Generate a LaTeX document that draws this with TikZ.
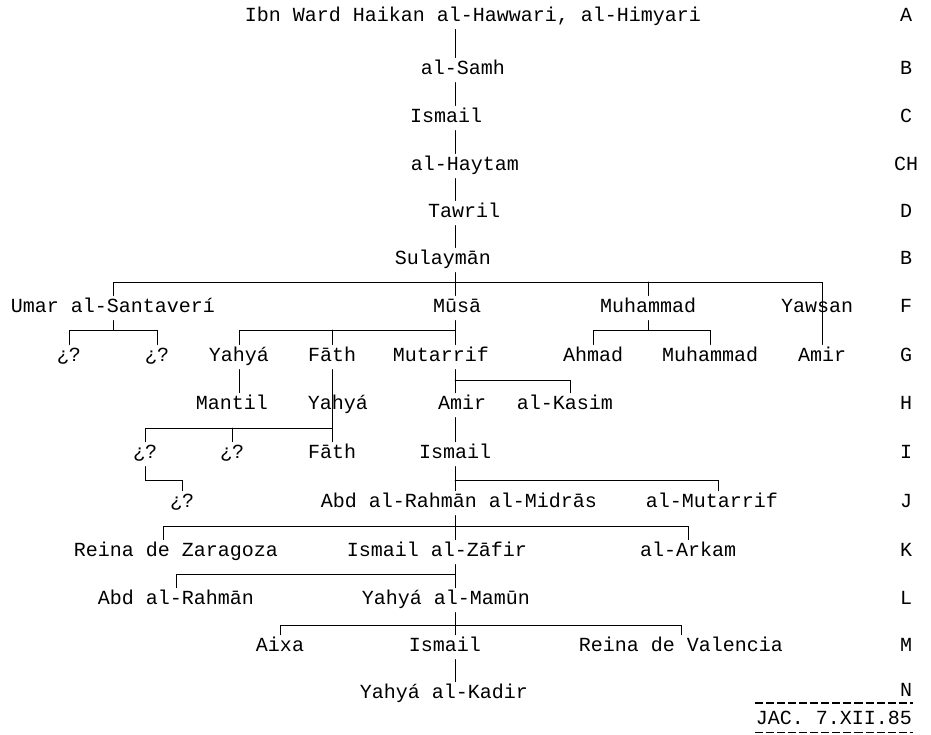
\documentclass[tikz,border=0pt]{standalone}
\usepackage{fontspec}
\newfontfamily\tw{Liberation Mono}
\begin{document}
\begin{tikzpicture}[x=1pt,y=-1pt,line width=1pt,line cap=round,
  nm/.style={font=\tw\fontsize{20}{24}\selectfont,inner sep=0pt,minimum height=24pt,text height=11pt,text depth=3pt}]
\useasboundingbox (0,0) rectangle (931,734);
% generation letters
\foreach \l/\y [count=\i] in {A/17,B/70,C/118,CH/166,D/213,B/260,F/308,G/357,H/405,I/454,J/503,K/552,L/600,M/647,N/692}
  \node[nm] (lab\i) at (906,\y) {\l};
% direct line
\coordinate (tr) at (455,0);
\node[nm] (ibn) at (473,17) {Ibn Ward Haikan al-Hawwari, al-Himyari};
\node[nm] (samh) at (463,70) {al-Samh};
\node[nm] (ismA) at (446,118) {Ismail};
\node[nm] (hay) at (465,166) {al-Haytam};
\node[nm] (taw) at (464,213) {Tawril};
\node[nm] (sul) at (443,260) {Sulaymān};
\node[nm] (musa) at (457,308) {Mūsā};
\node[nm] (mut) at (441,357) {Mutarrif};
\node[nm] (amirB) at (462,405) {Amir};
\node[nm] (ismB) at (455,454) {Ismail};
\node[nm] (abdA) at (459,503) {Abd al-Rahmān al-Midrās};
\node[nm] (zafir) at (437,552) {Ismail al-Zāfir};
\node[nm] (mamun) at (446,600) {Yahyá al-Mamūn};
\node[nm] (ismC) at (445,647) {Ismail};
\node[nm] (kadir) at (444,694) {Yahyá al-Kadir};
% side lines
\node[nm] (umar) at (113,308) {Umar al-Santaverí};
\node[nm] (muhA) at (648,308) {Muhammad};
\node[nm] (yaw) at (817,308) {Yawsan};
\node[nm] (q1) at (69,357) {¿?};
\node[nm] (q2) at (157,357) {¿?};
\node[nm] (yahA) at (239,357) {Yahyá};
\node[nm] (fathA) at (332,357) {Fāth};
\node[nm] (ahmad) at (593,357) {Ahmad};
\node[nm] (muhB) at (710,357) {Muhammad};
\node[nm] (amirA) at (822,357) {Amir};
\node[nm] (mantil) at (232,405) {Mantil};
\node[nm] (yahB) at (338,405) {Yahyá};
\node[nm] (kasim) at (565,405) {al-Kasim};
\node[nm] (q3) at (145,454) {¿?};
\node[nm] (q4) at (232,454) {¿?};
\node[nm] (fathB) at (332,454) {Fāth};
\node[nm] (q5) at (182,503) {¿?};
\node[nm] (mutB) at (712,503) {al-Mutarrif};
\node[nm] (reinaZ) at (176,552) {Reina de Zaragoza};
\node[nm] (arkam) at (688,552) {al-Arkam};
\node[nm] (abdB) at (176,600) {Abd al-Rahmān};
\node[nm] (aixa) at (280,647) {Aixa};
\node[nm] (reinaV) at (681,647) {Reina de Valencia};
% bars
\coordinate (b1) at (0,282);
\coordinate (b2) at (0,330);
\coordinate (b3) at (0,380);
\coordinate (b4) at (0,428);
\coordinate (b5) at (0,480);
\coordinate (b7) at (0,526);
\coordinate (b8) at (0,574);
\coordinate (b9) at (0,625);
\foreach \a/\b in {ibn/samh,samh/ismA,ismA/hay,hay/taw,taw/sul,sul/musa,musa/mut,mut/amirB,amirB/ismB,ismB/abdA,abdA/zafir,zafir/mamun,mamun/ismC,ismC/kadir}
  \draw (\a.south -| tr) -- (\b.north -| tr);
\draw (umar.north) |- (amirA.north |- b1) -- (amirA.north);
\draw (muhA.north) -- (muhA.north |- b1);
\draw (umar.south) -- (umar.south |- b2);
\draw (q1.north) |- (q2.north |- b2) -- (q2.north);
\draw (yahA.north) |- (b2 -| tr);
\draw (fathA.north) -- (fathA.north |- b2);
\draw (muhA.south) -- (muhA.south |- b2);
\draw (ahmad.north) |- (muhB.north |- b2) -- (muhB.north);
\draw (yahA.south) -- (yahA.south |- mantil.north);
\draw (fathA.south) -- (fathB.north);
\draw (q3.north) |- (fathB.north |- b4);
\draw (q4.north) -- (q4.north |- b4);
\draw (b3 -| tr) -| ([xshift=5pt]kasim.north);
\draw (q3.south) |- (q5.north |- b5) -- (q5.north);
\draw (b5 -| tr) -| ([xshift=6pt]mutB.north);
\draw ([xshift=-13pt]reinaZ.north) |- (arkam.north |- b7) -- (arkam.north);
\draw (abdB.north) |- (b8 -| tr);
\draw (aixa.north) |- (reinaV.north |- b9) -- (reinaV.north);
% signature
\node[nm] (jac) at (834,720) {JAC. 7.XII.85};
\draw[line width=1.4pt,line cap=butt,dash pattern=on 8pt off 3pt] (jac.west |- 0,703) -- (jac.east |- 0,703);
\draw[line width=1.4pt,line cap=butt,dash pattern=on 8pt off 3pt] (jac.south west) -- (jac.south east);
\end{tikzpicture}
\end{document}
